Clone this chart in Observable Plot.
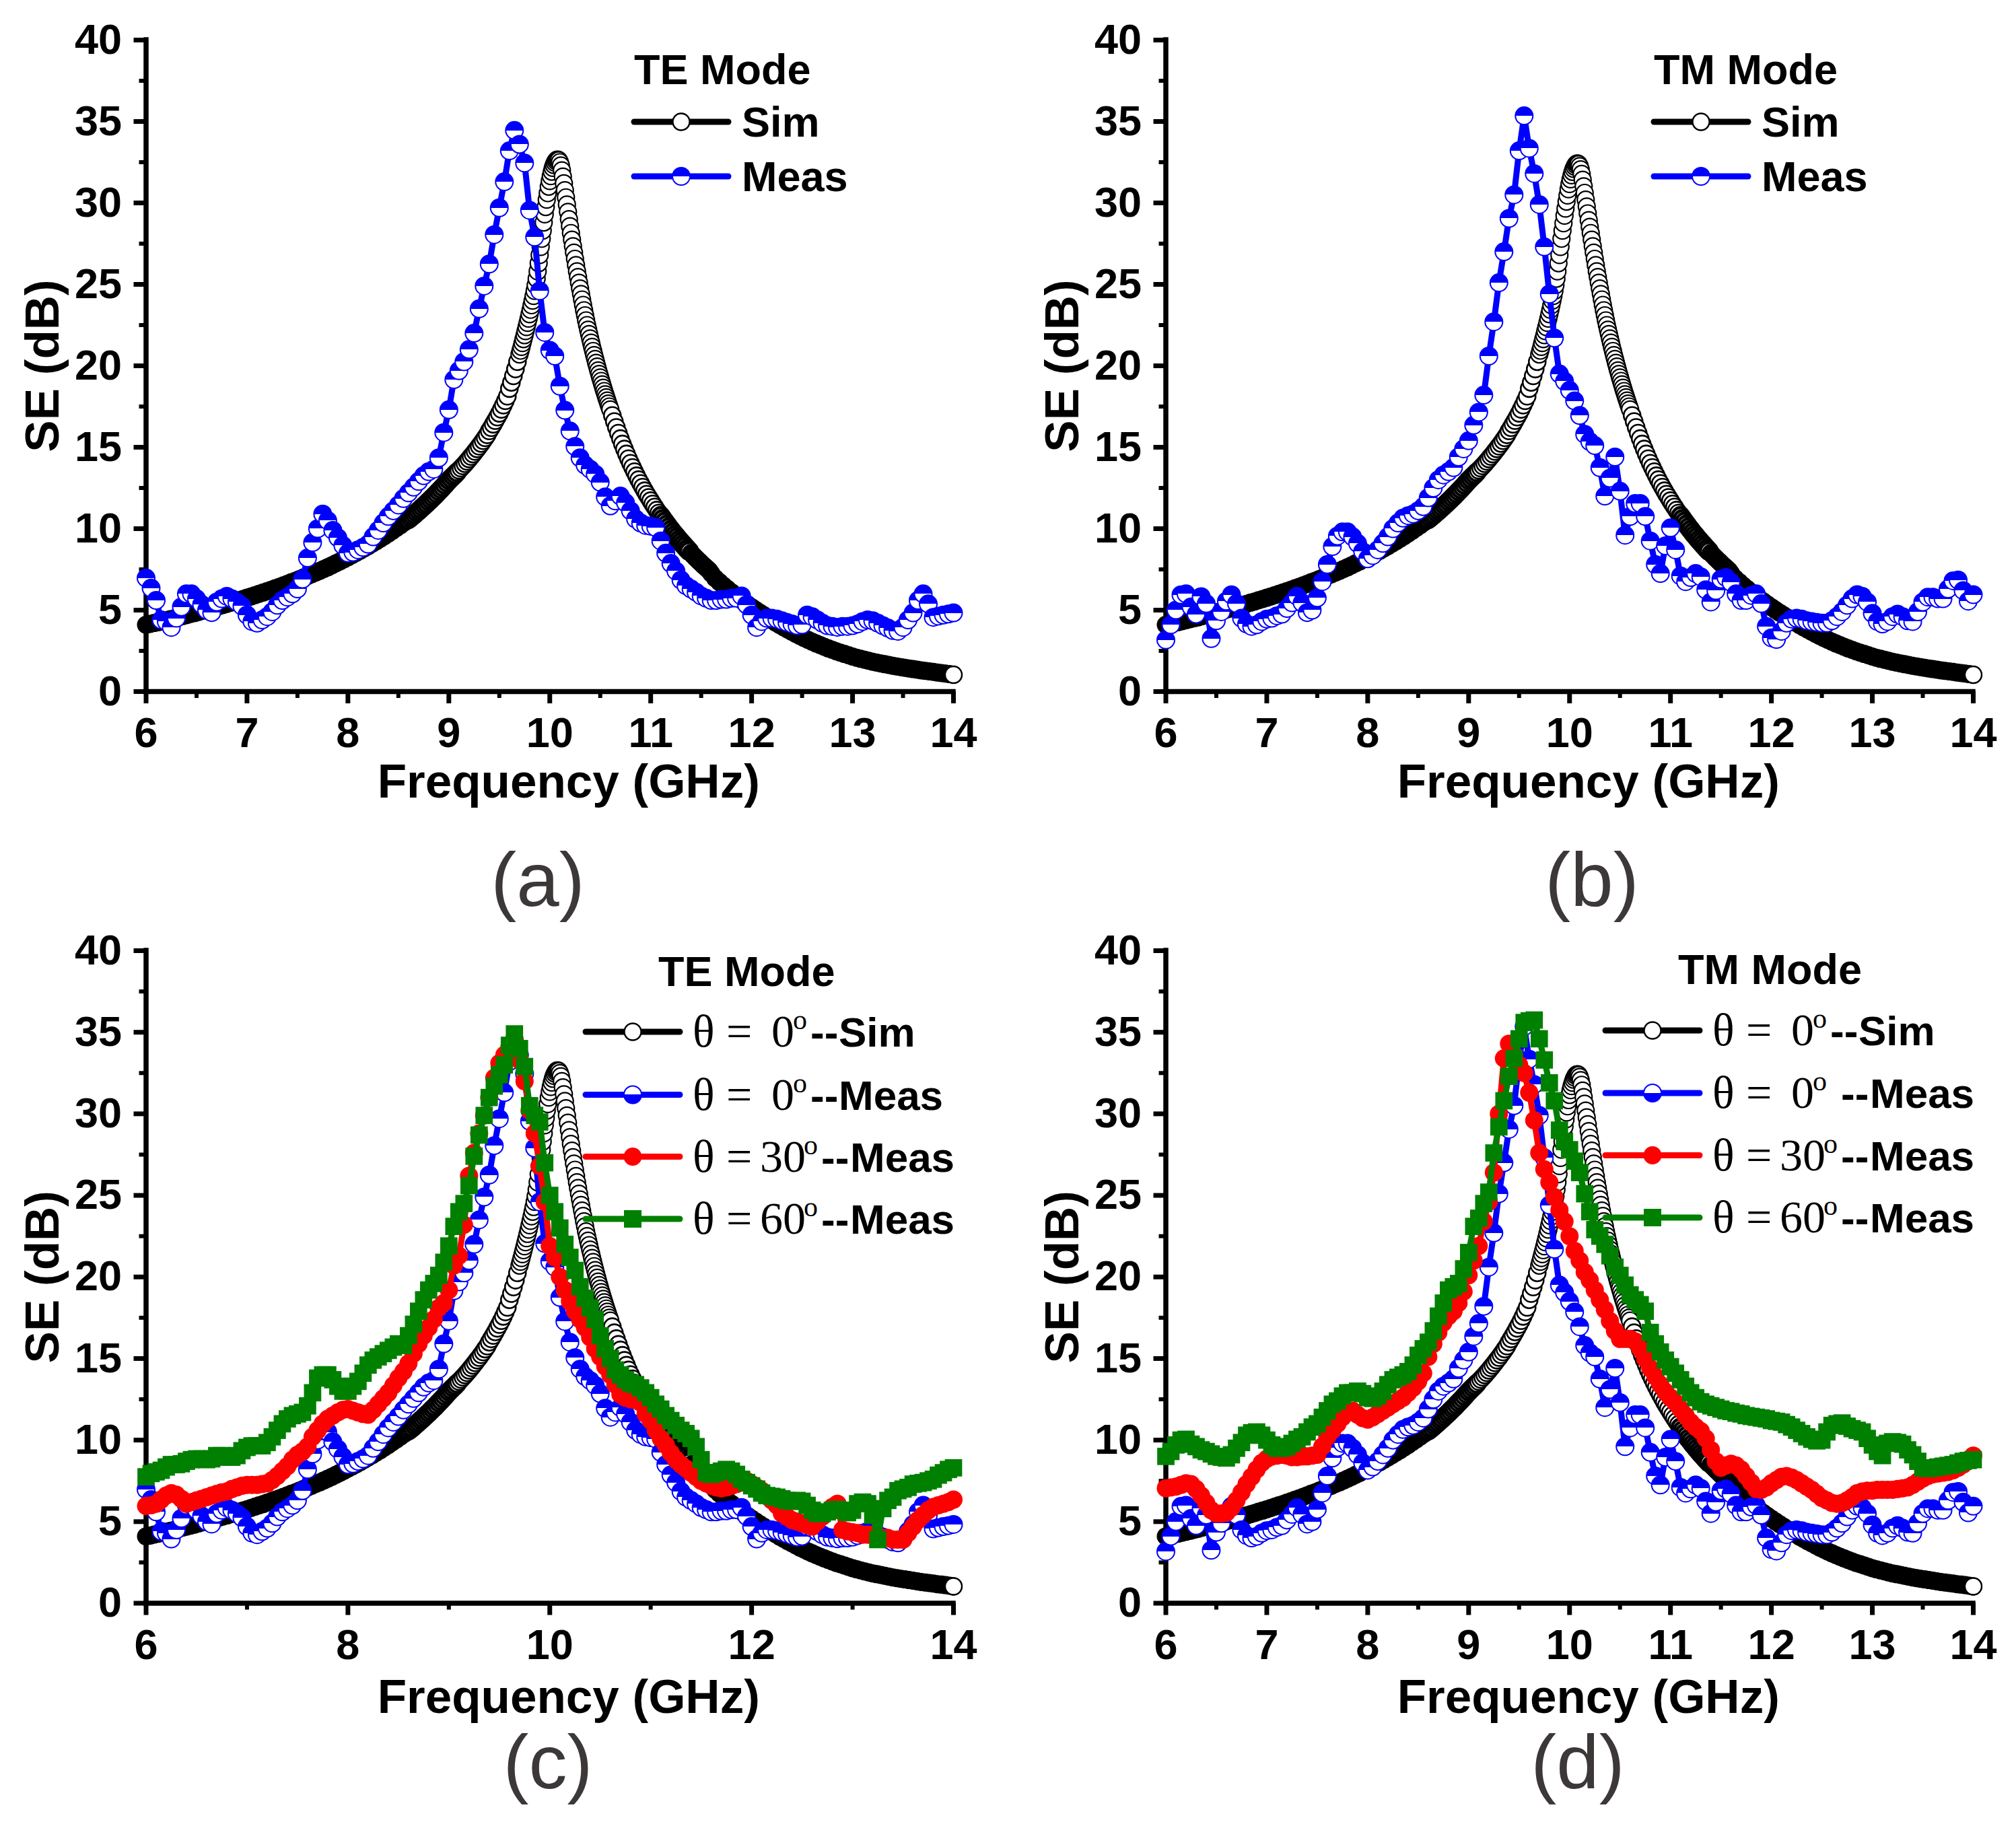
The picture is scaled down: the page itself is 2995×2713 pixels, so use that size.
<!DOCTYPE html>
<html><head><meta charset="utf-8">
<script src="https://cdn.jsdelivr.net/npm/d3@7"></script>
<script src="https://cdn.jsdelivr.net/npm/@observablehq/plot@0.6"></script>
<style>
html,body{margin:0;padding:0;background:#fff}
#page{position:relative;width:2995px;height:2713px;overflow:hidden}
</style></head><body>
<svg width="0" height="0" style="position:absolute"><defs>
<linearGradient id="halfTop" x1="0" y1="0" x2="0" y2="1"><stop offset="50%" stop-color="#0000ff"/><stop offset="50%" stop-color="#fff"/></linearGradient>
<linearGradient id="halfBottom" x1="0" y1="0" x2="0" y2="1"><stop offset="50%" stop-color="#fff"/><stop offset="50%" stop-color="#0000ff"/></linearGradient>
</defs></svg>
<div id="page"></div>
<script>
// --- Simulated curve, read in sections (solid tail, ring sections)
const simLowTail=[4.10,4.15,4.21,4.26,4.32,4.38,4.44,4.50,4.56,4.63,4.69,4.76,4.82,4.89,4.96,5.03,5.10,5.17,5.24,5.31,5.38,5.46,5.53,5.61,5.68,5.76,5.84,5.92,6.00,6.08,6.17,6.25,6.34,6.43,6.52,6.61,6.71,6.80,6.90,7.00,7.10,7.20,7.31,7.41,7.52,7.63,7.75,7.87,7.99,8.12,8.25,8.38,8.51,8.65,8.79,8.93,9.08,9.23,9.38,9.54,9.70,9.87,10.04,10.21,10.39];
const simRise=[10.57,10.67,10.77,10.88,10.99,11.10,11.21,11.32,11.44,11.55,11.67,11.79,11.91,12.03,12.16,12.29,12.42,12.55,12.69,12.83,12.97,13.09,13.21,13.33,13.46,13.59,13.72,13.85,13.99,14.13,14.28,14.43,14.58,14.74,14.90,15.06,15.23,15.40,15.58,15.76,16.00,16.20,16.41,16.63,16.85,17.08,17.32,17.58,17.85,18.13,18.60,18.98,19.38,19.80,20.25];
const simLeftFlank=[20.70,20.93,21.16,21.40,21.64,21.88,22.13,22.38,22.64,22.90,23.17,23.44,23.72,24.00,24.29,24.60,24.95,25.35,25.80,26.30,26.80,27.30,27.80,28.30];
const simPeakTE=[28.80,29.30,29.75,30.20,30.60,31.00,31.35,31.65,31.92,32.15,32.33,32.47,32.58,32.65,32.66,32.62,32.50,32.30,32.00,31.62,31.20,30.78,30.34,29.90,29.45,29.00,28.57];
const simPeakTM=[28.75,29.22,29.65,30.08,30.46,30.84,31.16,31.45,31.70,31.91,32.09,32.23,32.34,32.41,32.42,32.38,32.26,32.06,31.78,31.42,31.02,30.62,30.20,29.78,29.36,28.94,28.53];
const simRightFlank=[28.15,27.74,27.34,26.95,26.57,26.18,25.80,25.45,25.10,24.75,24.41,24.07,23.74,23.41,23.10,22.79,22.50,22.22,21.95,21.68,21.42,21.16,20.91,20.66,20.42,20.18,19.95,19.72,19.50,19.28,19.07,18.86,18.65,18.45,18.25,18.06,17.87,17.68,17.50,17.32];
const simFall=[16.95,16.58,16.22,15.87,15.53,15.20,14.89,14.59,14.30,14.02,13.76,13.50,13.25,13.01,12.78,12.55,12.33,12.12,11.92,11.72,11.52,11.33,11.14,10.96,10.78,10.60,10.43,10.26,10.09,9.93,9.77,9.62,9.47,9.32,9.18,9.04,8.90,8.76,8.63,8.50,8.37,8.24,8.12,8.00,7.88,7.76,7.65,7.54,7.43,7.25];
const simHighTail=[6.95,6.73,6.51,6.30,6.10,5.90,5.71,5.53,5.35,5.18,5.01,4.85,4.69,4.53,4.38,4.23,4.08,3.94,3.80,3.67,3.54,3.41,3.29,3.17,3.06,2.95,2.85,2.75,2.65,2.56,2.47,2.39,2.31,2.23,2.15,2.08,2.01,1.95,1.89,1.83,1.78,1.73,1.68,1.63,1.58,1.54,1.50,1.46,1.42,1.38,1.34,1.30,1.27,1.24,1.21,1.17,1.14,1.11,1.07,1.03];

// --- Measured series, one value every 0.05 GHz from 6 to 14
const measTE0=[6.97,6.35,5.6,4.4,4.3,3.94,4.5,5.2,6.0,6.0,5.7,5.35,5.0,4.85,5.5,5.7,5.85,5.7,5.5,5.25,
4.7,4.3,4.2,4.4,4.6,4.9,5.3,5.6,5.8,6.0,6.3,6.9,8.2,9.15,10.0,10.9,10.5,9.9,9.45,8.97,
8.5,8.55,8.7,8.85,9.05,9.5,9.9,10.35,10.75,11.1,11.45,11.85,12.2,12.55,12.9,13.25,13.5,13.65,14.35,15.9,
17.3,19.15,19.7,20.25,21.0,22.0,23.5,24.9,26.25,28.05,29.7,31.3,33.2,34.45,33.6,32.45,29.55,27.9,24.6,22.05,
20.95,20.6,18.75,17.27,16.0,15.05,14.35,13.9,13.65,13.35,12.85,11.95,11.4,11.7,12.0,11.6,11.1,10.6,10.35,10.2,
10.15,10.07,9.25,8.5,7.87,7.4,6.85,6.5,6.3,6.1,5.87,5.73,5.6,5.6,5.66,5.66,5.73,5.73,5.87,5.33,
4.7,3.94,4.3,4.5,4.5,4.45,4.35,4.25,4.15,4.05,4.1,4.7,4.6,4.4,4.2,4.05,4.0,3.95,4.0,4.0,
4.05,4.15,4.3,4.4,4.35,4.2,4.05,3.9,3.75,3.7,3.94,4.4,4.83,5.6,6.0,5.38,4.56,4.63,4.7,4.76,4.83];
const measTM0=[3.17,4.1,5.0,5.94,6.0,5.2,4.75,5.83,5.4,3.25,4.35,4.9,5.55,5.94,5.4,4.5,4.15,4.0,4.1,4.3,
4.45,4.5,4.65,4.75,5.1,5.45,5.85,5.45,4.85,5.0,5.75,6.75,7.8,8.9,9.55,9.8,9.8,9.5,9.1,8.6,
8.15,8.35,8.7,9.1,9.5,10,10.35,10.65,10.8,10.9,11.1,11.35,11.9,12.5,13.0,13.3,13.5,13.75,14.4,14.9,
15.4,16.35,17.15,18.2,20.6,22.7,25.1,27.0,29.05,30.5,33.2,35.35,33.35,31.8,29.9,27.3,24.4,21.7,19.5,19.05,
18.5,17.85,16.95,15.8,15.35,15.1,13.75,12.0,13.1,14.4,12.3,9.6,10.75,11.55,11.55,10.75,9.25,7.8,7.25,8.95,
10.05,8.7,7.1,6.75,7.0,7.25,7.05,6.25,5.5,6.2,6.9,7.0,6.7,6.0,5.6,5.6,5.9,6.0,5.4,4.0,
3.3,3.2,3.7,4.2,4.45,4.5,4.45,4.35,4.3,4.25,4.2,4.2,4.35,4.6,4.9,5.3,5.7,5.95,5.85,5.5,
4.8,4.3,4.15,4.3,4.6,4.75,4.6,4.35,4.3,4.9,5.5,5.8,5.8,5.7,5.7,6.3,6.8,6.85,6.2,5.55,5.95];
const measTE30=[5.96,6.0,6.1,6.35,6.6,6.75,6.65,6.4,6.1,6.2,6.3,6.4,6.5,6.6,6.7,6.8,6.85,7.0,7.1,7.2,
7.25,7.25,7.25,7.3,7.35,7.55,7.8,8.1,8.4,8.8,9.1,9.3,9.6,10.2,10.6,11.0,11.3,11.5,11.7,11.85,
11.9,11.8,11.7,11.6,11.55,11.85,12.2,12.55,12.9,13.35,13.8,14.2,14.7,15.3,15.9,16.4,16.9,17.4,18.1,18.4,
19.2,20.7,21.3,23.2,26.2,27.6,28.8,29.9,31,32.2,33.1,33.6,34.1,34.6,33.3,32,30.2,28.8,26.8,24.6,
21.9,21.2,20.0,19.2,18.5,17.9,17.4,16.9,16.3,15.6,15.1,14.5,14.0,13.4,12.8,12.6,12.5,12.45,12.3,11.6,
11.2,10.6,10.1,9.7,9.2,8.8,8.5,8.25,8.0,7.75,7.5,7.35,7.2,7.1,7.05,7.1,7.2,7.3,7.4,7.5,
7.3,7.1,6.9,6.6,6.3,6.0,5.5,5.3,5.1,5.0,4.9,4.8,4.7,5.0,5.3,5.6,5.9,6.1,4.5,4.4,
4.35,4.3,4.2,4.2,4.2,4.1,4.0,4.0,3.9,3.9,3.9,4.3,4.7,5.1,5.4,5.7,5.9,6.0,6.1,6.2,6.35];
const measTE60=[7.75,7.95,8.05,8.15,8.35,8.5,8.5,8.55,8.7,8.8,8.85,8.85,8.8,8.85,9.05,9.05,8.95,8.95,9.05,9.35,
9.55,9.65,9.65,9.65,9.85,10.2,10.6,11,11.3,11.5,11.6,11.7,12.1,12.9,13.8,14,14,13.7,13.3,13,
13.0,13.3,13.6,14.1,14.6,14.9,15.1,15.3,15.5,15.7,15.9,15.8,16.4,17.1,17.9,18.6,19.2,19.6,20.1,20.9,
21.9,23.1,24.0,24.5,25.6,27.4,28.7,29.9,31.0,31.7,32.4,33.0,34.2,34.9,34.0,32.9,30.5,29.9,29.5,27.0,
25.0,24.0,23.0,22.0,21.2,20.4,19.4,18.7,18.1,17.4,16.4,15.6,15.0,14.3,14.0,13.7,13.5,13.4,13.2,12.9,
12.6,12.2,11.9,11.5,11.2,10.9,10.6,10.4,10.1,9.6,8.8,8.0,7.9,8.0,8.1,8.2,8.1,7.9,7.6,7.4,
7.2,7.0,6.75,6.6,6.55,6.5,6.4,6.3,6.25,6.3,6.25,6.0,5.7,5.5,5.5,5.6,5.7,5.75,5.7,5.55,
5.7,6.1,6.2,6.1,5.4,3.9,5.8,6.3,6.5,6.9,7.0,7.1,7.3,7.35,7.4,7.5,7.6,7.85,8.0,8.2,8.3];
const measTM30=[7.05,7.1,7.15,7.25,7.35,7.3,7.0,6.6,6.15,5.7,5.5,5.5,5.55,5.85,6.3,6.8,7.3,7.75,8.2,8.6,
8.85,9.0,9.05,9.1,9.05,8.95,8.95,9.0,9.0,9.05,9.1,9.6,10.2,10.6,11.0,11.4,11.7,11.8,11.55,11.35,
11.25,11.4,11.6,11.8,12.0,12.2,12.4,12.6,12.9,13.2,13.6,14.1,15.1,15.9,16.6,17.2,17.6,17.9,18.4,19.1,
20.1,21.0,21.9,23.4,24.6,26.4,30.0,33.4,34.3,33.6,33.0,32.5,31.3,29.6,27.6,26.6,25.8,24.9,24.1,23.4,
22.5,21.6,21.0,20.3,19.8,19.2,18.6,18.0,17.3,16.7,16.2,16.2,16.2,16.05,15.6,15.0,14.4,13.9,13.4,12.95,
12.6,12.3,11.9,11.5,11.1,10.8,10.55,10.1,9.4,8.7,8.3,8.45,8.55,8.45,8.2,7.8,7.4,7.0,6.95,7.1,
7.35,7.55,7.75,7.8,7.7,7.55,7.35,7.15,6.95,6.7,6.45,6.3,6.15,6.1,6.15,6.3,6.5,6.75,6.85,6.9,
6.9,6.95,6.95,6.95,6.95,7.0,7.05,7.1,7.25,7.45,7.65,7.8,7.9,7.95,8.0,8.05,8.15,8.3,8.5,8.8,9.05];
const measTM60=[9.0,9.3,9.7,10.0,10.05,9.75,9.6,9.4,9.3,9.15,9.0,8.95,8.9,9.1,9.5,9.85,10.3,10.45,10.5,10.3,
10.0,9.7,9.5,9.5,9.6,9.8,10.05,10.2,10.5,10.8,11.0,11.4,11.8,12.2,12.4,12.7,12.9,12.9,13.0,12.85,
12.6,12.55,12.7,13.0,13.4,13.7,13.85,14.0,14.2,14.6,15.2,15.6,16.0,16.7,17.6,18.4,19.2,19.4,19.6,20.5,
21.5,23.1,23.6,24.5,25.2,27.6,29.2,30.8,32.3,33.4,34.6,35.6,35.7,35.75,34.6,33.3,31.9,30.8,29.0,28.3,
27.8,27.1,26.4,25.1,24.0,22.9,22.5,22.0,21.3,20.6,20.1,19.5,18.9,18.6,18.3,17.9,16.6,15.9,15.4,14.9,
14.5,14.1,13.7,13.3,12.9,12.6,12.35,12.2,12.1,12.0,11.9,11.8,11.75,11.65,11.6,11.5,11.45,11.4,11.35,11.3,
11.2,11.15,11.1,10.95,10.8,10.6,10.4,10.2,10.05,9.95,10.0,10.5,10.9,11.0,11.05,10.85,10.7,10.6,10.5,10.1,
9.7,9.3,9.05,9.8,9.9,9.85,9.75,9.4,9.1,8.7,8.3,8.25,8.3,8.35,8.4,8.45,8.5,8.6,8.7,8.75,8.8];

const yTicks=[0,5,10,15,20,25,30,35,40];
const yMinor=[2.5,7.5,12.5,17.5,22.5,27.5,32.5,37.5];
const xTicksAll=[6,7,8,9,10,11,12,13,14];
const xTicksEven=[6,8,10,12,14];
const xMinorHalf=[6.5,7.5,8.5,9.5,10.5,11.5,12.5,13.5];
const xMinorOdd=[7,9,11,13];

const SANS='"Liberation Sans",Arial,sans-serif', SERIF='"Liberation Serif","Times New Roman",serif';
const BLUE="#0000ff",RED="#ff0000",GREEN="#008000",BLACK="#000";

const seg=(start,step,ys)=>ys.map((y,i)=>({x:+(start+i*step).toFixed(3),y}));
const meas=ys=>seg(6,0.05,ys);
function sim(peak){
  const low=seg(6,0.04,simLowTail);
  const rise=seg(8.6,0.02,simRise);
  const rings=[...seg(9.7,0.01,simLeftFlank),...seg(9.94,0.01,peak),...seg(10.21,0.01,simRightFlank)];
  const fall=seg(10.62,0.02,simFall);
  const high=seg(11.64,0.04,simHighTail);
  return {low,rise,rings,fall,high,all:[...low,...rise,...rings,...fall,...high]};
}
function simMarks(s){
  const ring=(data,w)=>Plot.dot(data,{x:"x",y:"y",r:12.5,fill:"#fff",stroke:BLACK,strokeWidth:w});
  const solid=data=>Plot.dot(data,{x:"x",y:"y",r:13.5,fill:BLACK});
  return [
    Plot.line(s.all,{x:"x",y:"y",stroke:BLACK,strokeWidth:9}),
    solid(s.low),
    ring(s.rise.filter(d=>d.x<9.1),4),
    ring(s.rise.filter(d=>d.x>=9.1),2.6),
    ring(s.rings,2.2),
    ring(s.fall.filter(d=>d.x<11.1),2.6),
    ring(s.fall.filter(d=>d.x>=11.1&&d.x<11.4),4.5),
    solid(s.fall.filter(d=>d.x>=11.4)),
    solid(s.high),
    ring(s.high.slice(-1),2.4)
  ];
}
function blueMarks(ys){const d=meas(ys);return [
  Plot.line(d,{x:"x",y:"y",stroke:BLUE,strokeWidth:9}),
  Plot.dot(d,{x:"x",y:"y",r:13,fill:"url(#halfTop)",stroke:BLUE,strokeWidth:2})];}
function redMarks(ys){const d=meas(ys);return [
  Plot.line(d,{x:"x",y:"y",stroke:RED,strokeWidth:9}),
  Plot.dot(d,{x:"x",y:"y",r:13.5,fill:RED})];}
function greenMarks(ys){const d=meas(ys);return [
  Plot.line(d,{x:"x",y:"y",stroke:GREEN,strokeWidth:9}),
  Plot.dot(d,{x:"x",y:"y",r:14.5,symbol:"square",fill:GREEN})];}

const TICKFS=63, LABELFS=71;
function axes(xMaj,xMin,dyX){return [
  Plot.axisX(xMin,{tickSize:10,strokeWidth:6,fill:"none",label:null}),
  Plot.axisY(yMinor,{tickSize:10,strokeWidth:6,fill:"none",label:null}),
  Plot.axisX(xMaj,{tickSize:18,tickPadding:20,strokeWidth:7,fontSize:TICKFS,fontWeight:"bold",fill:BLACK,label:null,tickFormat:d=>d}),
  Plot.axisY(yTicks,{tickSize:18,tickPadding:18,strokeWidth:7,fontSize:TICKFS,fontWeight:"bold",fill:BLACK,label:null,tickFormat:d=>d}),
  Plot.ruleX([6],{strokeWidth:7.5,strokeLinecap:"square"}),
  Plot.ruleY([0],{strokeWidth:7.5,strokeLinecap:"square"}),
  Plot.text(["Frequency (GHz)"],{frameAnchor:"bottom",textAnchor:"middle",dx:28,dy:dyX+2,fontSize:LABELFS,fontWeight:"bold",fill:BLACK,lineAnchor:"middle"}),
  Plot.text(["SE (dB)"],{frameAnchor:"left",textAnchor:"middle",dx:-153,rotate:-90,fontSize:LABELFS,fontWeight:"bold",fill:BLACK,lineAnchor:"middle"})
];}

// legend / caption, drawn in panel pixels
function overlay(draw){return ()=>{const g=d3.create("svg:g");draw(g);return g.node();};}
function txt(g,x,y,s,opt={}){return g.append("text").attr("x",x).attr("y",y).attr("font-family",opt.family||SANS)
  .attr("font-size",opt.size||62).attr("font-weight",opt.weight||"bold").attr("fill",opt.fill||"#000")
  .attr("text-anchor",opt.anchor||"start").attr("dominant-baseline","alphabetic").text(s);}
function key(g,x0,x1,y,kind){
  const xm=(x0+x1)/2;
  const col={sim:BLACK,blueT:BLUE,blueB:BLUE,red:RED,green:GREEN}[kind];
  g.append("line").attr("x1",x0+4).attr("x2",x1-4).attr("y1",y).attr("y2",y).attr("stroke",col).attr("stroke-width",9).attr("stroke-linecap","round");
  const c=(r,f,s,w)=>g.append("circle").attr("cx",xm).attr("cy",y).attr("r",r).attr("fill",f).attr("stroke",s).attr("stroke-width",w);
  if(kind==="sim")c(12.5,"#fff",BLACK,2.4);
  if(kind==="blueT")c(13,"url(#halfTop)",BLUE,2);
  if(kind==="blueB")c(13,"url(#halfBottom)",BLUE,2);
  if(kind==="red")c(13.5,RED,"none",0);
  if(kind==="green")g.append("rect").attr("x",xm-13).attr("y",y-13).attr("width",26).attr("height",26).attr("fill",GREEN);
}
function simpleLegend(title){return overlay(g=>{
  txt(g,942,125,title,{size:63});
  key(g,938,1086,181,"sim"); txt(g,1102,203,"Sim",{size:63});
  key(g,938,1086,262,"blueT"); txt(g,1102,284,"Meas",{size:63});
});}
function thetaRow(g,y,kind,deg,dashX,wordX,word){
  key(g,866,1014,y,kind);
  const base=y+22;
  txt(g,1029,base,"θ",{family:SERIF,weight:"normal",size:68});
  txt(g,1079,base,"=",{family:SERIF,weight:"normal",size:68});
  const dx=deg==="0"?1146:1129;
  txt(g,dx,base,deg,{family:SERIF,weight:"normal",size:68});
  txt(g,dx+(deg==="0"?32:65),base-26,"o",{family:SERIF,weight:"normal",size:42});
  txt(g,dashX,base,"--",{size:62});
  txt(g,wordX,base,word,{size:62});
}
function thetaLegend(title,titleY,ys,blueDash,blueWord){return overlay(g=>{
  txt(g,978,titleY,title,{size:63});
  thetaRow(g,ys[0],"sim","0",1204,1246,"Sim");
  thetaRow(g,ys[1],"blueB","0",blueDash,blueWord,"Meas");
  thetaRow(g,ys[2],"red","30",1220,1263,"Meas");
  thetaRow(g,ys[3],"green","60",1220,1263,"Meas");
});}
function caption(s,cx,baseline){return overlay(g=>{
  txt(g,cx,baseline,s,{family:SANS,weight:"normal",size:114,fill:"#3c3838",anchor:"middle"});
});}

function panel({left,top,height,marginTop,marginBottom,marks}){
  const el=Plot.plot({
    width:1480,height,marginLeft:216.5,marginRight:64,marginTop,marginBottom,
    x:{domain:[6,14],type:"linear"},y:{domain:[0,40],type:"linear"},
    style:{fontFamily:SANS,background:"transparent",overflow:"visible"},
    marks
  });
  el.style.position="absolute";el.style.left=left+"px";el.style.top=top+"px";
  document.getElementById("page").appendChild(el);
}
const TOP={top:0,height:1400,marginTop:59,marginBottom:373};
const BOT={top:1340,height:1373,marginTop:72,marginBottom:331.5};
const simTE=sim(simPeakTE), simTM=sim(simPeakTM);

panel({left:0,...TOP,marks:[...axes(xTicksAll,xMinorHalf,133),...simMarks(simTE),...blueMarks(measTE0),simpleLegend("TE Mode"),caption("(a)",799,1346)]});
panel({left:1515,...TOP,marks:[...axes(xTicksAll,xMinorHalf,133),...simMarks(simTM),...blueMarks(measTM0),simpleLegend("TM Mode"),caption("(b)",850,1346)]});
panel({left:0,...BOT,marks:[...axes(xTicksEven,xMinorOdd,138),...simMarks(simTE),...blueMarks(measTE0),...redMarks(measTE30),...greenMarks(measTE60),thetaLegend("TE Mode",125,[193,286.5,378.5,471],1204,1246),caption("(c)",814,1317)]});
panel({left:1515,...BOT,marks:[...axes(xTicksAll,xMinorHalf,138),...simMarks(simTM),...blueMarks(measTM0),...redMarks(measTM30),...greenMarks(measTM60),thetaLegend("TM Mode",122,[191,284,376.5,469],1220,1263),caption("(d)",829,1317)]});
</script>
</body></html>
